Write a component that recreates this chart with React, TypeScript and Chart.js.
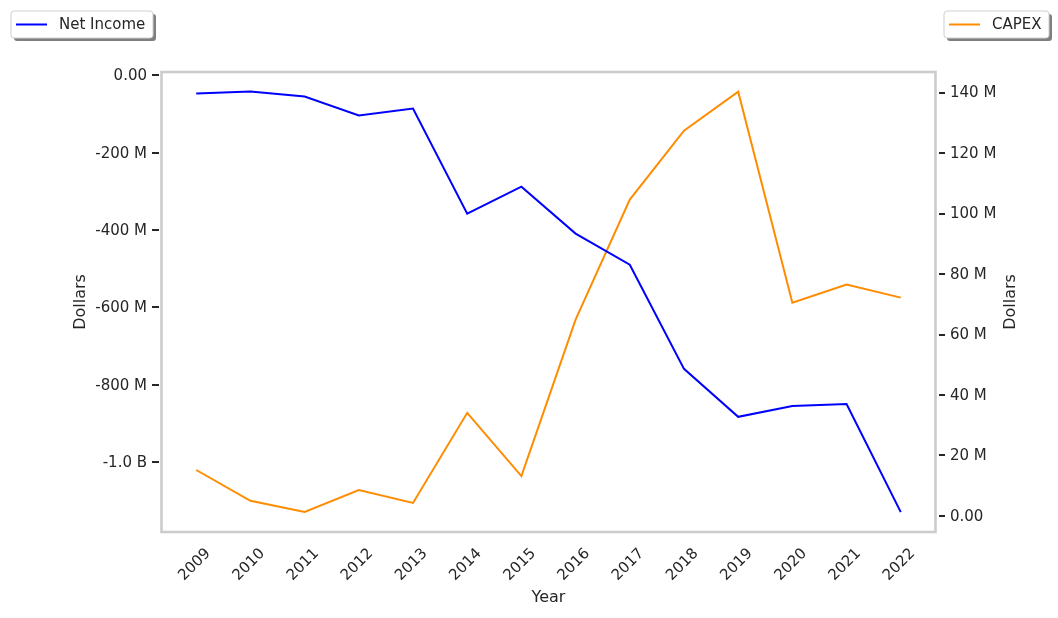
import React, { useEffect, useRef } from "react";
import { Chart, registerables } from "chart.js";

Chart.register(...registerables);

const years = [2009, 2010, 2011, 2012, 2013, 2014, 2015, 2016, 2017, 2018, 2019, 2020, 2021, 2022];
const netIncome = [-46.6, -41.5, -54.4, -103.6, -85.5, -357.5, -287.6, -409, -489.6, -759, -883, -855, -850, -1129.5];
const capex = [15.2, 5.0, 1.3, 8.6, 4.3, 34.1, 13.2, 64.9, 104.6, 127.4, 140.3, 70.5, 76.5, 72.2];
const leftTicks = [0, -200, -400, -600, -800, -1000];
const leftTickLabels = ["0.00", "-200 M", "-400 M", "-600 M", "-800 M", "-1.0 B"];
const rightTicks = [0, 20, 40, 60, 80, 100, 120, 140];
const rightTickLabels = ["0.00", "20 M", "40 M", "60 M", "80 M", "100 M", "120 M", "140 M"];

const FONT = "DejaVu Sans";
const TEXT = "#262626";

function drawLegend(ctx: CanvasRenderingContext2D, x: number, y: number, w: number, h: number, color: string, label: string) {
  ctx.save();
  const r = 3;
  const rr = (px: number, py: number) => {
    ctx.beginPath();
    ctx.moveTo(px + r, py);
    ctx.lineTo(px + w - r, py);
    ctx.quadraticCurveTo(px + w, py, px + w, py + r);
    ctx.lineTo(px + w, py + h - r);
    ctx.quadraticCurveTo(px + w, py + h, px + w - r, py + h);
    ctx.lineTo(px + r, py + h);
    ctx.quadraticCurveTo(px, py + h, px, py + h - r);
    ctx.lineTo(px, py + r);
    ctx.quadraticCurveTo(px, py, px + r, py);
    ctx.closePath();
  };
  rr(x + 3, y + 3);
  ctx.fillStyle = "#7f7f7f";
  ctx.fill();
  rr(x, y);
  ctx.fillStyle = "#ffffff";
  ctx.fill();
  ctx.strokeStyle = "#cfcfcf";
  ctx.lineWidth = 1;
  ctx.stroke();
  ctx.beginPath();
  ctx.moveTo(x + 5, y + h / 2);
  ctx.lineTo(x + 36, y + h / 2);
  ctx.strokeStyle = color;
  ctx.lineWidth = 2;
  ctx.stroke();
  ctx.fillStyle = TEXT;
  ctx.font = `15px "${FONT}"`;
  ctx.textBaseline = "middle";
  ctx.textAlign = "left";
  ctx.fillText(label, x + 48, y + h / 2 + 1);
  ctx.restore();
}

const decorPlugin = {
  id: "decor",
  afterDraw(chart: any) {
    const ctx = chart.ctx as CanvasRenderingContext2D;
    const a = chart.chartArea;
    ctx.save();
    ctx.strokeStyle = "#cccccc";
    ctx.lineWidth = 2.6;
    ctx.strokeRect(a.left + 0.5, a.top, a.right - a.left - 1, a.bottom - a.top);
    // tick marks
    ctx.strokeStyle = TEXT;
    ctx.lineWidth = 2;
    const ys = chart.scales.y;
    leftTicks.forEach((v) => {
      const py = Math.round(ys.getPixelForValue(v));
      ctx.beginPath();
      ctx.moveTo(a.left - 9, py);
      ctx.lineTo(a.left - 2, py);
      ctx.stroke();
    });
    const ys1 = chart.scales.y1;
    rightTicks.forEach((v) => {
      const py = Math.round(ys1.getPixelForValue(v));
      ctx.beginPath();
      ctx.moveTo(a.right + 3, py);
      ctx.lineTo(a.right + 9, py);
      ctx.stroke();
    });
    ctx.fillStyle = TEXT;
    ctx.font = `16px "${FONT}"`;
    ctx.textAlign = "center";
    ctx.textBaseline = "middle";
    ctx.fillText("Year", (a.left + a.right) / 2, 598);
    ctx.save();
    ctx.translate(81, (a.top + a.bottom) / 2);
    ctx.rotate(-Math.PI / 2);
    ctx.fillText("Dollars", 0, 0);
    ctx.restore();
    ctx.save();
    ctx.translate(1011, (a.top + a.bottom) / 2);
    ctx.rotate(-Math.PI / 2);
    ctx.fillText("Dollars", 0, 0);
    ctx.restore();
    ctx.restore();
    drawLegend(ctx, 11, 11, 142, 27, "#0000ff", "Net Income");
    drawLegend(ctx, 944, 11, 105, 27, "#ff8c00", "CAPEX");
  },
};

export default function App() {
  const ref = useRef<HTMLCanvasElement>(null);
  useEffect(() => {
    if (!ref.current) return;
    const chart = new Chart(ref.current, {
      type: "line",
      data: {
        datasets: [
          {
            label: "Net Income",
            data: years.map((y, i) => ({ x: y, y: netIncome[i] })),
            borderColor: "#0000ff",
            borderWidth: 2,
            pointRadius: 0,
            tension: 0,
            yAxisID: "y",
          },
          {
            label: "CAPEX",
            data: years.map((y, i) => ({ x: y, y: capex[i] })),
            borderColor: "#ff8c00",
            borderWidth: 2,
            pointRadius: 0,
            tension: 0,
            yAxisID: "y1",
          },
        ],
      },
      options: {
        animation: false,
        responsive: false,
        layout: { padding: { top: 72, left: 0, right: 0, bottom: 0 } },
        plugins: { legend: { display: false }, tooltip: { enabled: false } },
        scales: {
          x: {
            type: "linear",
            min: 2008.35,
            max: 2022.65,
            afterBuildTicks: (s: any) => {
              s.ticks = years.map((v) => ({ value: v }));
            },
            afterFit: (s: any) => {
              s.height = 86;
            },
            grid: { display: false },
            border: { display: false },
            ticks: {
              minRotation: 45,
              maxRotation: 45,
              padding: 5,
              labelOffset: 12,
              color: TEXT,
              font: { family: FONT, size: 15 },
              callback: (v: any) => String(v),
            },
          },
          y: {
            type: "linear",
            position: "left",
            min: -1181,
            max: 9,
            afterBuildTicks: (s: any) => {
              s.ticks = leftTicks.map((v) => ({ value: v }));
            },
            afterFit: (s: any) => {
              s.width = 161;
            },
            grid: { display: false },
            border: { display: false },
            ticks: {
              padding: 6,
              labelOffset: 1,
              color: TEXT,
              font: { family: FONT, size: 15 },
              callback: (v: any) => {
                const i = leftTicks.indexOf(v);
                return i >= 0 ? leftTickLabels[i] : "";
              },
            },
          },
          y1: {
            type: "linear",
            position: "right",
            min: -5.3,
            max: 146.8,
            afterBuildTicks: (s: any) => {
              s.ticks = rightTicks.map((v) => ({ value: v }));
            },
            afterFit: (s: any) => {
              s.width = 122;
            },
            grid: { display: false },
            border: { display: false },
            ticks: {
              padding: 6,
              labelOffset: 1,
              color: TEXT,
              font: { family: FONT, size: 15 },
              callback: (v: any) => {
                const i = rightTicks.indexOf(v);
                return i >= 0 ? rightTickLabels[i] : "";
              },
            },
          },
        },
      },
      plugins: [decorPlugin],
    } as any);
    return () => chart.destroy();
  }, []);
  return (
    <div style={{ position: "fixed", left: 0, top: 0, width: 1058, height: 618, background: "#fff" }}>
      <canvas ref={ref} width={1058} height={618} style={{ display: "block" }} />
    </div>
  );
}
